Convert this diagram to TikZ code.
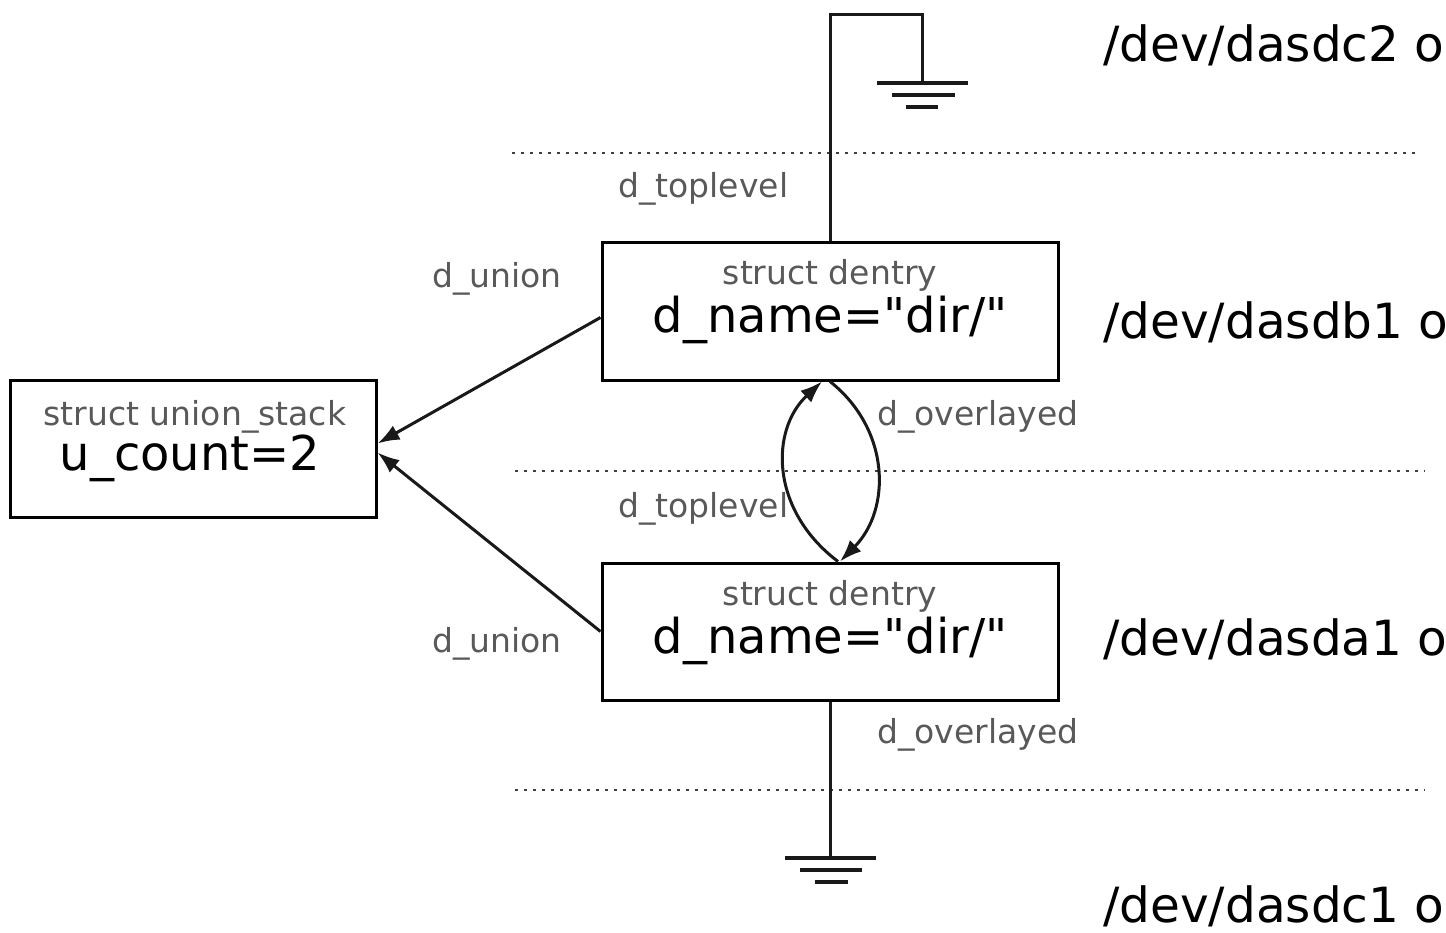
\documentclass[tikz,border=0pt]{standalone}
\usepackage{fontspec}
\setmainfont{DejaVu Sans}[Ligatures=TeXOff]
\usetikzlibrary{arrows.meta}
\begin{document}
\begin{tikzpicture}[x=1pt,y=-1pt,
  box/.style={draw=black,line width=3pt,minimum width=456pt,minimum height=137pt,inner sep=0pt,fill=white},
  small/.style={font=\fontsize{33}{36}\selectfont,text=black!65,inner sep=0pt},
  big/.style={font=\fontsize{48}{52}\selectfont,text=black,inner sep=0pt},
  dev/.style={font=\fontsize{48.5}{54}\selectfont,text=black,inner sep=0pt,anchor=base west},
  wire/.style={line width=3pt,draw=black!90},
  ptr/.style={line width=3pt,draw=black!90,-{Latex[length=22pt,width=16pt]}},
  level/.style={line width=2.5pt,draw=black!75,dash pattern=on 3pt off 6pt},
  gnd/.style={line width=3.5pt,draw=black!90}]
\useasboundingbox (0,0) rectangle (1446,933);
\clip (0,0) rectangle (1446,933);

% layer boundaries
\draw[level] (512,153) -- (1418,153);
\draw[level] (515,471) -- (1425,471);
\draw[level] (515,790) -- (1425,790);

% dentries and the union stack
\node[box] (top) at (830,311.5) {};
\node[box] (bot) at (830,631.5) {};
\node[box,minimum width=366pt] (us) at (193,448.5) {};

\node[small,anchor=base] (topt) at (830,285) {struct dentry};
\node[big,anchor=base] (topn) at (830,333) {d\_name="dir/"};
\node[small,anchor=base] (bott) at (830,605) {struct dentry};
\node[big,anchor=base] (botn) at (830,653) {d\_name="dir/"};
\node[small,anchor=base] (ust) at (195,425) {struct union\_stack};
\node[big,anchor=base] (usn) at (190,470) {u\_count=2};

% d_toplevel of the upper dentry goes to the ground
\coordinate (g1) at (922,83);
\draw[wire] (top.north) -- (830,15) -- (922,15) -- (g1);
\draw[gnd] ([xshift=-45pt]g1) -- ([xshift=46pt]g1);
\draw[gnd] ([xshift=-30pt,yshift=-12pt]g1) -- ([xshift=33pt,yshift=-12pt]g1);
\draw[gnd] ([xshift=-16pt,yshift=-24pt]g1) -- ([xshift=16pt,yshift=-24pt]g1);

% d_overlayed of the lower dentry goes to the ground
\coordinate (g2) at (830,858);
\draw[wire] (bot.south) -- (g2);
\draw[gnd] ([xshift=-45pt]g2) -- ([xshift=46pt]g2);
\draw[gnd] ([xshift=-30pt,yshift=-12pt]g2) -- ([xshift=32pt,yshift=-12pt]g2);
\draw[gnd] ([xshift=-15pt,yshift=-24pt]g2) -- ([xshift=18pt,yshift=-24pt]g2);

% d_union pointers
\draw[ptr] ([yshift=-6pt]top.west) -- ([yshift=5pt]us.east);
\draw[ptr] (bot.west) -- ([yshift=-4pt]us.east);

% d_toplevel / d_overlayed between the two dentries
\draw[ptr] ([xshift=8pt]bot.north) .. controls (770,510) and (770,430) .. ([xshift=-8pt]top.south);
\draw[ptr] (top.south) .. controls (891,430) and (891,510) .. ([xshift=10pt]bot.north);

% pointer names
\node[small,anchor=base west] (l1) at (618,198) {d\_toplevel};
\node[small,anchor=base west] (l2) at (432,288) {d\_union};
\node[small,anchor=base west] (l3) at (877,425) {d\_overlayed};
\node[small,anchor=base west] (l4) at (618,517) {d\_toplevel};
\node[small,anchor=base west] (l5) at (432,652) {d\_union};
\node[small,anchor=base west] (l6) at (877,743) {d\_overlayed};

% devices
\node[dev] (d1) at (1103,62) {/dev/dasdc2 o};
\node[dev] (d2) at (1103,338) {/dev/dasdb1 o};
\node[dev] (d3) at (1103,655) {/dev/dasda1 o};
\node[dev] (d4) at (1103,922) {/dev/dasdc1 o};
\end{tikzpicture}
\end{document}
